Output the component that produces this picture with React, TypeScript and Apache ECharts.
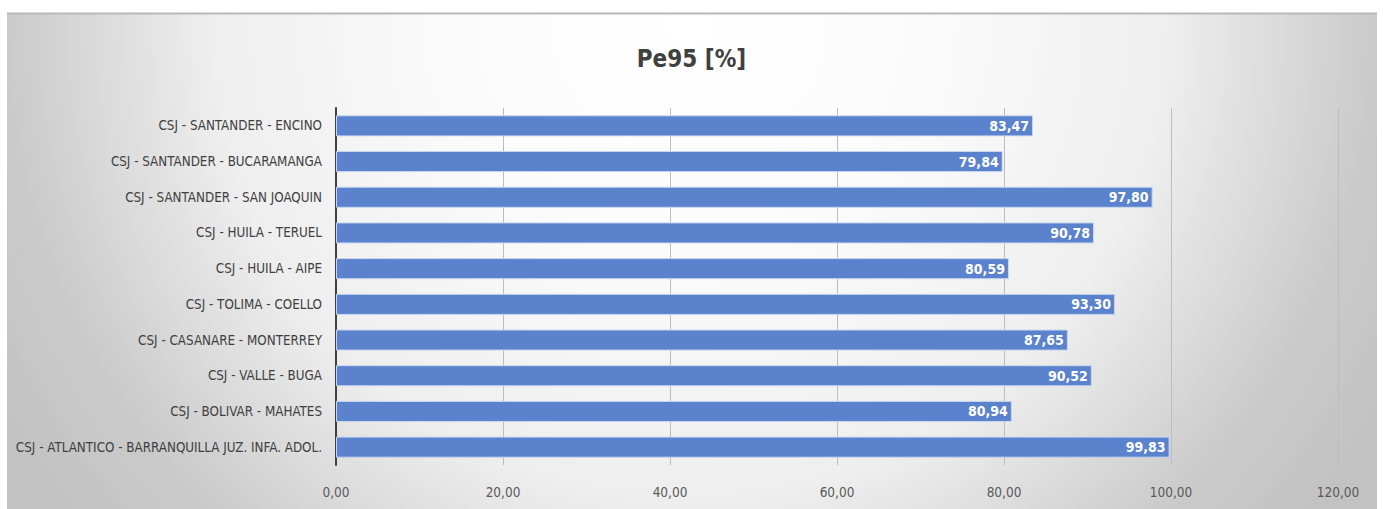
import React, { useEffect, useRef } from "react";
import * as echarts from "echarts";

const categories = [
  "CSJ - SANTANDER - ENCINO",
  "CSJ - SANTANDER - BUCARAMANGA",
  "CSJ - SANTANDER - SAN JOAQUIN",
  "CSJ - HUILA - TERUEL",
  "CSJ - HUILA - AIPE",
  "CSJ - TOLIMA - COELLO",
  "CSJ - CASANARE - MONTERREY",
  "CSJ - VALLE - BUGA",
  "CSJ - BOLIVAR - MAHATES",
  "CSJ - ATLANTICO - BARRANQUILLA JUZ. INFA. ADOL.",
];
const values = [83.47, 79.84, 97.8, 90.78, 80.59, 93.3, 87.65, 90.52, 80.94, 99.83];
const title = "Pe95 [%]";

const FONT = "'Liberation Sans Narrow', 'DejaVu Sans Condensed', 'Open Sans', sans-serif";
const fmt = (v: number) => v.toFixed(2).replace(".", ",");

export default function App() {
  const ref = useRef<HTMLDivElement>(null);
  useEffect(() => {
    document.body.style.margin = "0";
    const chart = echarts.init(ref.current!, null, { renderer: "svg" });
    chart.setOption({
      animation: false,
      graphic: [
        {
          type: "rect",
          z: -10,
          silent: true,
          shape: { x: 7, y: 13, width: 1370, height: 500 },
          style: {
            fill: new echarts.graphic.RadialGradient(
              690,
              20,
              800,
              [
                { offset: 0, color: "#ffffff" },
                { offset: 0.3, color: "#fbfbfb" },
                { offset: 0.6, color: "#eeeeee" },
                { offset: 0.85, color: "#cbcbcb" },
                { offset: 1, color: "#c2c2c2" },
              ],
              true
            ),
          },
        },
        {
          type: "line",
          z: -9,
          silent: true,
          shape: { x1: 7, y1: 13.5, x2: 1377, y2: 13.5 },
          style: { stroke: "#b8b8b8", lineWidth: 2 },
        },
      ],
      title: {
        text: title,
        left: "center",
        top: 42,
        textStyle: { fontFamily: FONT, fontSize: 24, fontWeight: "bold", color: "#404040" },
      },
      grid: { left: 336, right: 45, top: 108, bottom: 44, containLabel: false, outerBoundsMode: "none" },
      xAxis: {
        type: "value",
        min: 0,
        max: 120,
        interval: 20,
        axisLine: { show: false },
        axisTick: { show: false },
        splitLine: { show: true, lineStyle: { color: "#bdbdbd", width: 1 } },
        axisLabel: {
          formatter: (v: number) => fmt(v),
          fontFamily: FONT,
          fontSize: 13.5,
          color: "#595959",
          margin: 20,
        },
      },
      yAxis: {
        type: "category",
        inverse: true,
        data: categories,
        axisLine: { show: true, lineStyle: { color: "#404040", width: 2 } },
        axisTick: { show: false },
        axisLabel: { fontFamily: FONT, fontSize: 13.3, color: "#404040", margin: 14 },
      },
      series: [
        {
          type: "bar",
          data: values,
          barCategoryGap: "41%",
          itemStyle: { color: "#5a82cd", borderColor: "#c9d6f0", borderWidth: 1 },
          label: {
            show: true,
            position: "insideRight",
            formatter: (p: any) => fmt(p.value),
            fontFamily: FONT,
            fontSize: 14,
            fontWeight: "bold",
            color: "#ffffff",
            distance: 4,
          },
        },
      ],
    });
    return () => chart.dispose();
  }, []);
  return <div ref={ref} style={{ width: 1383, height: 509 }} />;
}
